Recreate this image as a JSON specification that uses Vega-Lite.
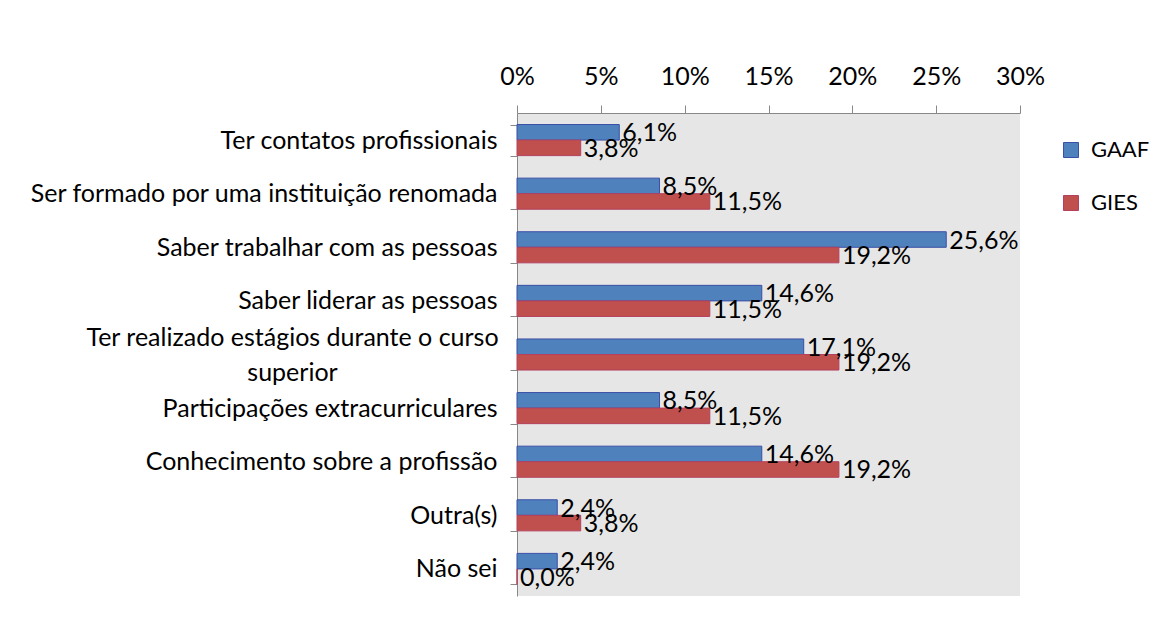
{
  "$schema": "https://vega.github.io/schema/vega-lite/v6.json",
  "width": 503,
  "height": 483,
  "autosize": {"type": "none"},
  "padding": {"left": 517, "top": 113, "right": 156, "bottom": 28},
  "background": "white",
  "data": {
    "values": [
      {"cat": "Ter contatos profissionais", "series": "GAAF", "value": 6.1, "label": "6,1%"},
      {"cat": "Ter contatos profissionais", "series": "GIES", "value": 3.8, "label": "3,8%"},
      {"cat": "Ser formado por uma instituição renomada", "series": "GAAF", "value": 8.5, "label": "8,5%"},
      {"cat": "Ser formado por uma instituição renomada", "series": "GIES", "value": 11.5, "label": "11,5%"},
      {"cat": "Saber trabalhar com as pessoas", "series": "GAAF", "value": 25.6, "label": "25,6%"},
      {"cat": "Saber trabalhar com as pessoas", "series": "GIES", "value": 19.2, "label": "19,2%"},
      {"cat": "Saber liderar as pessoas", "series": "GAAF", "value": 14.6, "label": "14,6%"},
      {"cat": "Saber liderar as pessoas", "series": "GIES", "value": 11.5, "label": "11,5%"},
      {"cat": "Ter realizado estágios durante o curso superior", "series": "GAAF", "value": 17.1, "label": "17,1%"},
      {"cat": "Ter realizado estágios durante o curso superior", "series": "GIES", "value": 19.2, "label": "19,2%"},
      {"cat": "Participações extracurriculares", "series": "GAAF", "value": 8.5, "label": "8,5%"},
      {"cat": "Participações extracurriculares", "series": "GIES", "value": 11.5, "label": "11,5%"},
      {"cat": "Conhecimento sobre a profissão", "series": "GAAF", "value": 14.6, "label": "14,6%"},
      {"cat": "Conhecimento sobre a profissão", "series": "GIES", "value": 19.2, "label": "19,2%"},
      {"cat": "Outra(s)", "series": "GAAF", "value": 2.4, "label": "2,4%"},
      {"cat": "Outra(s)", "series": "GIES", "value": 3.8, "label": "3,8%"},
      {"cat": "Não sei", "series": "GAAF", "value": 2.4, "label": "2,4%"},
      {"cat": "Não sei", "series": "GIES", "value": 0.0, "label": "0,0%"}
    ]
  },
  "encoding": {
    "y": {
      "field": "cat",
      "type": "nominal",
      "sort": null,
      "title": null,
      "scale": {"paddingInner": 0.42, "paddingOuter": 0.215},
      "axis": {
        "orient": "left",
        "tickBand": "extent",
        "tickSize": 7,
        "tickColor": "#888888",
        "domainColor": "#888888",
        "labelPadding": {"condition": {"test": "datum.value == 'Ter realizado estágios durante o curso superior'", "value": 218}, "value": 13},
        "labelAlign": {"condition": {"test": "datum.value == 'Ter realizado estágios durante o curso superior'", "value": "center"}, "value": "right"},
        "labelFont": "Lato",
        "labelFontSize": 25,
        "labelColor": "black",
        "labelLimit": 600,
        "labelLineHeight": 35,
        "labelOffset": {"condition": {"test": "datum.value == 'Ter realizado estágios durante o curso superior'", "value": -17}, "value": 0},
        "labelExpr": "datum.value == 'Ter realizado estágios durante o curso superior' ? ['Ter realizado estágios durante o curso', 'superior'] : datum.value"
      }
    },
    "yOffset": {"field": "series", "type": "nominal", "sort": ["GAAF", "GIES"]}
  },
  "layer": [
    {
      "mark": {"type": "bar", "strokeWidth": 1},
      "encoding": {
        "x": {
          "field": "value",
          "type": "quantitative",
          "scale": {"domain": [0, 30], "nice": false},
          "title": null,
          "axis": {
            "orient": "top",
            "values": [0, 5, 10, 15, 20, 25, 30],
            "labelExpr": "datum.value + '%'",
            "labelFlush": false,
            "labelOverlap": false,
            "grid": false,
            "tickSize": 8,
            "tickColor": "#888888",
            "domainColor": "#888888",
            "labelPadding": 16,
            "labelFont": "Lato",
            "labelFontSize": 25,
            "labelColor": "black"
          }
        },
        "color": {
          "field": "series",
          "type": "nominal",
          "scale": {"domain": ["GAAF", "GIES"], "range": ["#4F81BD", "#C0504D"]},
          "legend": {
            "title": null,
            "orient": "none",
            "legendX": 543,
            "legendY": 26,
            "symbolType": "square",
            "symbolSize": 225,
            "symbolStrokeWidth": 1,
            "labelFont": "Lato",
            "labelFontSize": 22,
            "labelColor": "black",
            "rowPadding": 31,
            "labelOffset": 9
          }
        },
        "stroke": {
          "field": "series",
          "type": "nominal",
          "scale": {"domain": ["GAAF", "GIES"], "range": ["#3B4FA6", "#B3405E"]},
          "legend": null
        }
      }
    },
    {
      "mark": {"type": "text", "align": "left", "baseline": "middle", "dx": 3, "dy": 1, "font": "Lato", "fontSize": 25, "color": "black"},
      "encoding": {
        "x": {"field": "value", "type": "quantitative"},
        "text": {"field": "label"}
      }
    }
  ],
  "config": {"view": {"fill": "#e6e6e6", "stroke": null}}
}
